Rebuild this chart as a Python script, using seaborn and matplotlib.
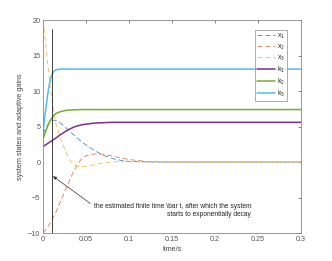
import numpy as np
import pandas as pd
import seaborn as sns
import matplotlib
matplotlib.use("Agg")
import matplotlib.pyplot as plt

# time samples (s)
t = [0, 0.0025, 0.005, 0.0075, 0.01, 0.0125, 0.015, 0.02, 0.025, 0.03, 0.035, 0.04,
     0.045, 0.05, 0.06, 0.07, 0.08, 0.09, 0.1, 0.12, 0.14, 0.16, 0.2, 0.3]

x1 = [4.0, 4.7, 5.2, 5.6, 5.85, 5.9, 5.85, 5.5, 5.0, 4.45, 3.9, 3.35,
      2.85, 2.4, 1.6, 0.95, 0.5, 0.25, 0.1, 0.02, 0, 0, 0, 0]
x2 = [-10, -9.6, -9.2, -8.7, -8.2, -7.6, -7.0, -5.6, -4.2, -2.8, -1.4, -0.3,
      0.5, 0.9, 1.15, 1.1, 0.85, 0.6, 0.35, 0.1, 0.02, 0, 0, 0]
x3 = [20, 17.2, 14.2, 11.4, 9.0, 7.0, 5.3, 3.4, 1.8, 0.4, -0.3, -0.6,
      -0.65, -0.6, -0.35, -0.12, 0.02, 0.06, 0.05, 0.01, 0, 0, 0, 0]
k1 = [2.2, 2.4, 2.6, 2.8, 3.0, 3.2, 3.4, 3.85, 4.25, 4.6, 4.9, 5.1,
      5.25, 5.35, 5.5, 5.55, 5.6, 5.6, 5.6, 5.6, 5.6, 5.6, 5.6, 5.6]
k2 = [3.3, 4.2, 5.0, 5.7, 6.2, 6.6, 6.85, 7.1, 7.25, 7.32, 7.36, 7.38,
      7.4, 7.4, 7.4, 7.4, 7.4, 7.4, 7.4, 7.4, 7.4, 7.4, 7.4, 7.4]
k3 = [4.5, 7.0, 9.3, 11.2, 12.3, 12.8, 13.0, 13.1, 13.1, 13.1, 13.1, 13.1,
      13.1, 13.1, 13.1, 13.1, 13.1, 13.1, 13.1, 13.1, 13.1, 13.1, 13.1, 13.1]

t_bar = 0.01
bar_top = 18.7

sns.set_style("white")
plt.rcParams["font.family"] = ["Liberation Sans", "DejaVu Sans"]
plt.rcParams["mathtext.fontset"] = "custom"
plt.rcParams["mathtext.rm"] = "Liberation Sans"

fig = plt.figure(figsize=(3.32, 2.61), dpi=100)
ax = fig.add_axes([0.13, 0.107, 0.777, 0.816])

dash = (0, (6, 3.5))
series = [
    ("x_1", x1, "#3a8fd0", dash, 0.6),
    ("x_2", x2, "#e07a4a", dash, 0.6),
    ("x_3", x3, "#f0c050", dash, 0.6),
    ("k_1", k1, "#7E2F8E", "-", 1.1),
    ("k_2", k2, "#77AC30", "-", 1.1),
    ("k_3", k3, "#4DBEEE", "-", 1.1),
]
for name, vals, col, ls, lw in series:
    df = pd.DataFrame({"t": t, "v": vals})
    sns.lineplot(data=df, x="t", y="v", ax=ax, color=col, linestyle=ls, linewidth=lw,
                 label=r"$\mathregular{%s}$" % name)

ax.plot([t_bar, t_bar], [-10, bar_top], color="#222222", linewidth=0.6)

ax.annotate("the estimated finite time \\bar t, after which the system\nstarts to exponentially decay",
            xy=(0.0115, -2.0), xytext=(0.242, -6.8), fontsize=4.8, color="#222222",
            ha="right", va="center", multialignment="right",
            arrowprops=dict(arrowstyle="-|>", color="#333333", lw=0.5,
                            mutation_scale=5, shrinkA=0, shrinkB=0,
                            relpos=(0.0, 0.8)))

ax.set_xlim(0, 0.3)
ax.set_ylim(-10, 20)
ax.set_xticks([0, 0.05, 0.1, 0.15, 0.2, 0.25, 0.3])
ax.set_xticklabels(["0", "0.05", "0.1", "0.15", "0.2", "0.25", "0.3"])
ax.set_yticks([-10, -5, 0, 5, 10, 15, 20])
ax.set_xlabel("time/s", fontsize=5.2, color="#444444", labelpad=2)
ax.set_ylabel("system states and adaptive gains", fontsize=5.2, color="#444444", labelpad=3)
ax.tick_params(direction="in", length=2, width=0.5, labelsize=5.2, colors="#555555",
               top=True, right=True, pad=2)
for s in ax.spines.values():
    s.set_color("#888888")
    s.set_linewidth(0.6)

leg = ax.legend(loc="upper right", bbox_to_anchor=(0.945, 0.955), fontsize=5,
                frameon=True, fancybox=False, handlelength=2.6, handletextpad=0.2,
                borderpad=0.3, labelspacing=0.25, borderaxespad=0)
leg.get_frame().set_edgecolor("#888888")
leg.get_frame().set_linewidth(0.6)

fig.savefig("out.png", dpi=100)
